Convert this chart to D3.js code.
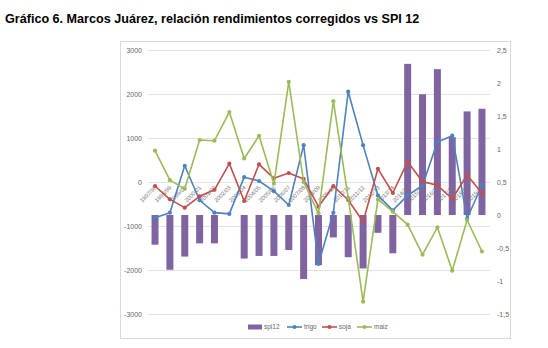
<!DOCTYPE html>
<html><head><meta charset="utf-8">
<script src="https://cdn.jsdelivr.net/npm/d3@7"></script>
<style>
html,body{margin:0;padding:0;background:#fff;}
svg{display:block;font-family:"Liberation Sans",Arial,sans-serif;}
</style></head>
<body>
<svg id="c" width="548" height="348"></svg>
<script>
const categories = ["1997/98","1998/99","1999/00","2000/01","2001/02","2002/03","2003/04","2004/05","2005/06","2006/07","2007/08","2008/09","2009/10","2010/11","2011/12","2012/13","2013/14","2014/15","2015/16","2016/17","2017/18","2018/19","2019/20"];
const spi12 = [-0.45,-0.83,-0.63,-0.43,-0.43,0,-0.66,-0.62,-0.62,-0.53,-0.97,-0.76,-0.34,-0.64,-0.81,-0.27,-0.58,2.29,1.83,2.21,1.18,1.57,1.61];
const trigo = [-810,-697,368,-415,-697,-725,110,23,-208,-523,838,-1860,-697,2053,838,-305,-645,-305,-78,910,1053,-830,-68];
const soja = [-91,-394,-583,-325,-178,417,-432,402,83,205,68,-560,-95,-409,-902,300,-250,462,8,-75,-380,159,-258];
const maiz = [712,42,-155,955,939,1590,535,1050,-38,2277,0,-712,1838,-360,-2720,-395,-675,-970,-1650,-1030,-2015,-864,-1580];
const leftTicks = [-3000,-2000,-1000,0,1000,2000,3000];
const rightTicks = [-1.5,-1,-0.5,0,0.5,1,1.5,2,2.5];

const svg = d3.select("#c");
const colors = {spi12:"#8064A2", trigo:"#4F81BD", soja:"#C0504D", maiz:"#9BBB59"};

svg.append("text").attr("x",5).attr("y",23)
  .attr("font-size","12.6px").attr("font-weight","bold").attr("fill","#000")
  .text("Gráfico 6. Marcos Juárez, relación rendimientos corregidos vs SPI 12");

svg.append("rect").attr("x",120.5).attr("y",41.5).attr("width",390).attr("height",297)
  .attr("fill","#fff").attr("stroke","#d9d9d9").attr("stroke-width",1);

const x = d3.scaleBand().domain(categories).range([147.6,489.4]).padding(0);
const yL = d3.scaleLinear().domain([-3000,3000]).range([314,50]);
const yR = d3.scaleLinear().domain([-1.5,2.5]).range([314,50]);
const cx = d => x(d) + x.bandwidth()/2;

// gridlines
svg.append("g").selectAll("line").data(leftTicks).join("line")
  .attr("x1",147.6).attr("x2",490).attr("y1",d=>Math.round(yL(d))+0.5).attr("y2",d=>Math.round(yL(d))+0.5)
  .attr("stroke","#e3e3e3").attr("stroke-width",1);

// left axis
const axL = d3.axisLeft(yL).tickValues(leftTicks).tickSize(0).tickPadding(0).tickFormat(d=>String(d));
const gL = svg.append("g").attr("transform","translate(142,0)").call(axL);
gL.select(".domain").remove();
gL.selectAll("text").attr("font-size","7px").attr("fill","#666").attr("font-family","Liberation Sans, Arial, sans-serif");

// right axis
const axR = d3.axisRight(yR).tickValues(rightTicks).tickSize(0).tickPadding(0)
  .tickFormat(d=>String(d).replace(".",","));
const gR = svg.append("g").attr("transform","translate(497,0)").call(axR);
gR.select(".domain").remove();
gR.selectAll("text").attr("font-size","7px").attr("fill","#666").attr("font-family","Liberation Sans, Arial, sans-serif");

// bars
const bw = 7;
svg.append("g").selectAll("rect").data(categories).join("rect")
  .attr("x",(d)=>cx(d)-bw/2)
  .attr("y",(d,i)=>Math.min(yR(spi12[i]),yR(0)))
  .attr("width",bw)
  .attr("height",(d,i)=>Math.abs(yR(spi12[i])-yR(0)))
  .attr("fill",colors.spi12);

// category labels
svg.append("g").selectAll("text").data(categories).join("text")
  .attr("transform",d=>`translate(${cx(d)+2},${yL(0)+6}) rotate(-45)`)
  .attr("text-anchor","end").attr("font-size","5.8px").attr("fill","#777")
  .text(d=>d);

// lines
const series = [["trigo",trigo],["soja",soja],["maiz",maiz]];
const line = d3.line().x((d,i)=>cx(categories[i])).y(d=>yL(d));
series.forEach(([name,vals])=>{
  const g = svg.append("g");
  g.append("path").datum(vals).attr("d",line).attr("fill","none")
    .attr("stroke",colors[name]).attr("stroke-width",1.6).attr("stroke-linejoin","round");
  g.selectAll("circle").data(vals).join("circle")
    .attr("cx",(d,i)=>cx(categories[i])).attr("cy",d=>yL(d)).attr("r",2.1)
    .attr("fill",colors[name]);
});

// legend
const lg = svg.append("g").attr("font-size","6.5px").attr("fill","#666");
const ly = 327;
lg.append("rect").attr("x",248).attr("y",ly-2.5).attr("width",14).attr("height",5).attr("fill",colors.spi12);
lg.append("text").attr("x",264).attr("y",ly+2.3).attr("fill","#666").text("spi12");
const items = [["trigo",287],["soja",322],["maiz",357]];
items.forEach(([name,x0])=>{
  lg.append("line").attr("x1",x0).attr("x2",x0+15).attr("y1",ly).attr("y2",ly)
    .attr("stroke",colors[name]).attr("stroke-width",1.6);
  lg.append("circle").attr("cx",x0+7.5).attr("cy",ly).attr("r",2).attr("fill",colors[name]);
  lg.append("text").attr("x",x0+17).attr("y",ly+2.3).attr("fill","#666").text(name);
});
</script>
</body></html>
